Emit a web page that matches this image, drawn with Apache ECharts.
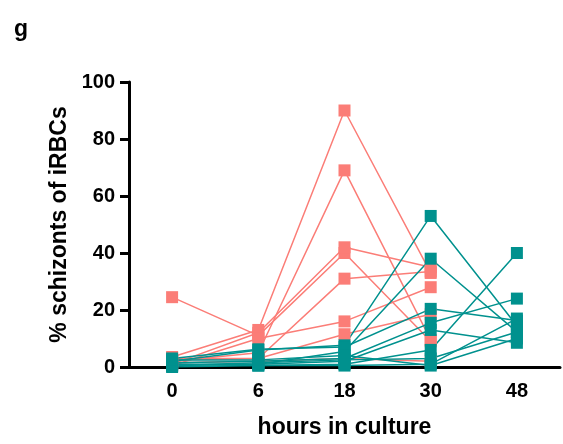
<!DOCTYPE html>
<html>
<head>
<meta charset="utf-8">
<script src="https://cdn.jsdelivr.net/npm/echarts@6/dist/echarts.min.js"></script>
<style>html,body{margin:0;padding:0;background:#fff}#c{width:563px;height:444px}</style>
</head>
<body>
<div id="c"></div>
<script>
const categories = ['0', '6', '18', '30', '48'];
const yTicks = [0, 20, 40, 60, 80, 100];

// salmon group (measured at 0, 6, 18, 30 h)
const salmon1 = [24.5, 11, 40, 9];
const salmon2 = [3.5, 13, 90, 33];
const salmon3 = [2, 5, 69, 9.5];
const salmon4 = [1, 12, 42, 35];
const salmon5 = [3, 3, 31, 33.5];
const salmon6 = [0.5, 10, 16, 28];
const salmon7 = [2.5, 3, 11.5, 18.5];
const salmon8 = [1.5, 2, 3, 2];

// teal group (measured at 0, 6, 18, 30, 48 h)
const teal1 = [2, 6, 7.6, 53, 14.5];
const teal2 = [1, 1, 5.4, 38, 12.3];
const teal3 = [3, 6.2, 7, 20.4, 16.3];
const teal4 = [1.5, 2, 3, 15.5, 24];
const teal5 = [0.5, 1, 2, 13, 8.5];
const teal6 = [1, 0.5, 1, 6, 40];
const teal7 = [0.5, 1.5, 2.5, 3, 12.3];
const teal8 = [0, 0.5, 0.5, 1, 17];
const teal9 = [2.5, 2.5, 4, 0.5, 10];

const salmonGroup = [salmon1, salmon2, salmon3, salmon4, salmon5, salmon6, salmon7, salmon8];
const tealGroup = [teal1, teal2, teal3, teal4, teal5, teal6, teal7, teal8, teal9];

const SALMON = '#fb7d77';
const TEAL = '#00918e';

function mk(data, color) {
  return {
    type: 'line', data: data, symbol: 'rect', symbolSize: 12,
    lineStyle: { color: color, width: 1.5 },
    itemStyle: { color: color },
    animation: false, silent: true
  };
}

const series = [];
salmonGroup.forEach(d => series.push(mk(d, SALMON)));
tealGroup.forEach(d => series.push(mk(d, TEAL)));

const chart = echarts.init(document.getElementById('c'), null, { renderer: 'canvas' });
const font = '"Liberation Sans", Arial, sans-serif';
chart.setOption({
  animation: false,
  title: { text: 'g', left: 9, top: 13, textStyle: { fontFamily: font, fontWeight: 'bold', fontSize: 23, color: '#000' } },
  grid: { left: 129, right: 3, top: 82, bottom: 76, containLabel: false },
  xAxis: {
    type: 'category', data: categories, boundaryGap: true,
    name: 'hours in culture', nameLocation: 'middle', nameGap: 49,
    nameTextStyle: { fontFamily: font, fontWeight: 'bold', fontSize: 23, color: '#000' },
    axisLine: { lineStyle: { color: '#000', width: 3 } },
    axisTick: { alignWithLabel: true, length: 10, lineStyle: { color: '#000', width: 3 } },
    axisLabel: { fontFamily: font, fontWeight: 'bold', fontSize: 20, color: '#000', margin: 14 },
    splitLine: { show: false }
  },
  yAxis: {
    type: 'value', min: yTicks[0], max: yTicks[yTicks.length - 1], interval: 20,
    name: '% schizonts of iRBCs', nameLocation: 'middle', nameGap: 57, nameRotate: 90,
    nameTextStyle: { fontFamily: font, fontWeight: 'bold', fontSize: 23, color: '#000' },
    axisLine: { show: true, lineStyle: { color: '#000', width: 3 } },
    axisTick: { show: true, length: 9, lineStyle: { color: '#000', width: 3 } },
    axisLabel: { fontFamily: font, fontWeight: 'bold', fontSize: 20, color: '#000', margin: 14 },
    splitLine: { show: false }
  },
  series: series
});
</script>
</body>
</html>
